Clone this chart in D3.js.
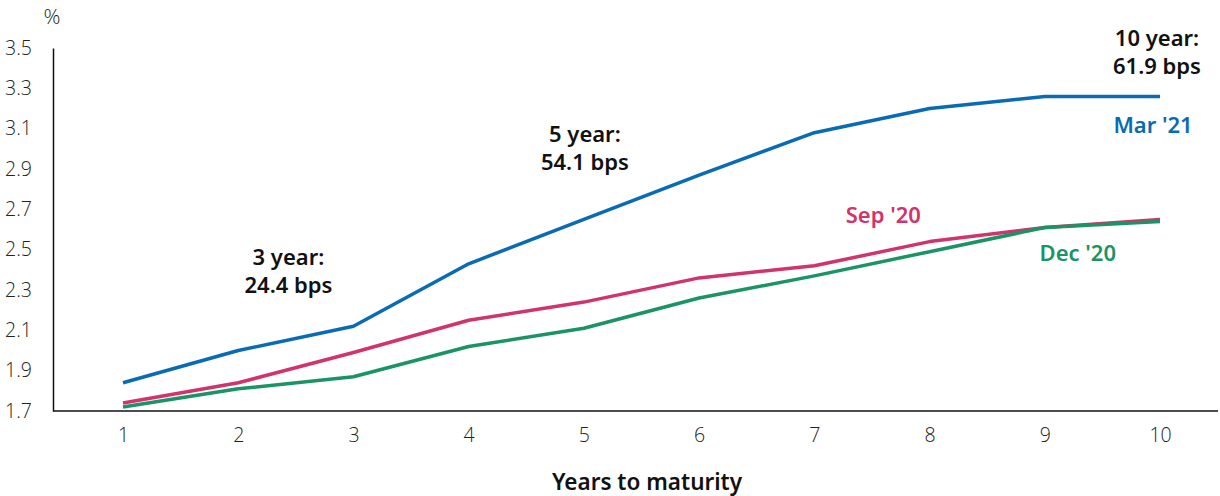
<!DOCTYPE html>
<html><head><meta charset="utf-8">
<script src="https://cdn.jsdelivr.net/npm/d3@7"></script>
<style>
body{margin:0;background:#fff;}
svg{display:block;}
</style></head>
<body>
<svg id="chart" width="1220" height="496"></svg>
<script>
const years = [1,2,3,4,5,6,7,8,9,10];
const mar21 = [1.84,2.00,2.12,2.43,2.65,2.87,3.08,3.20,3.26,3.26];
const sep20 = [1.74,1.84,1.99,2.15,2.24,2.36,2.42,2.54,2.61,2.65];
const dec20 = [1.72,1.81,1.87,2.02,2.11,2.26,2.37,2.49,2.61,2.64];
const yTicks = [1.7,1.9,2.1,2.3,2.5,2.7,2.9,3.1,3.3,3.5];
const seriesNames = ["Mar '21","Sep '20","Dec '20"];
const annotations = [["3 year:","24.4 bps"],["5 year:","54.1 bps"],["10 year:","61.9 bps"]];

(function(){
const svg = d3.select("#chart");
const mLeft = 53, mRight = 1218, mTop = 48, mBottom = 411;
const x = d3.scalePoint().domain(years).range([123, 1160]).padding(0);
const y = d3.scaleLinear().domain([1.7,3.5]).range([mBottom, mTop]);

const tickFont = "'Open Sans', sans-serif";
const boldFont = "'Noto Sans', sans-serif";

const yAxis = svg.append("g").attr("transform",`translate(${mLeft},0)`)
  .call(d3.axisLeft(y).tickValues(yTicks).tickFormat(d3.format(".1f")).tickSize(0).tickPadding(21));
yAxis.select(".domain").attr("stroke","#111").attr("stroke-width",1.5);
yAxis.selectAll("text").attr("font-family",tickFont).attr("font-size",19.5).attr("font-weight",300).attr("fill","#222");

const xAxis = svg.append("g").attr("transform",`translate(0,${mBottom})`)
  .call(d3.axisBottom(x).tickSize(0).tickPadding(17));
xAxis.select(".domain").remove();
xAxis.append("line").attr("x1",mLeft).attr("x2",mRight).attr("y1",0).attr("y2",0)
  .attr("stroke","#111").attr("stroke-width",1.5);
xAxis.selectAll("text").attr("font-family",tickFont).attr("font-size",19.5).attr("font-weight",300).attr("fill","#222");

svg.append("text").attr("x",52).attr("y",24).attr("text-anchor","middle")
  .attr("font-family",tickFont).attr("font-size",21).attr("font-weight",300).attr("fill","#222").text("%");

svg.append("text").attr("x",647).attr("y",490).attr("text-anchor","middle")
  .attr("font-family",boldFont).attr("font-size",22.5).attr("font-weight",600).attr("fill","#111").text("Years to maturity");

const line = d3.line().x((d,i)=>x(years[i])).y(d=>y(d));
const series = [
  {name: seriesNames[0], values: mar21, color:"#0a6bb5"},
  {name: seriesNames[1], values: sep20, color:"#d1336c"},
  {name: seriesNames[2], values: dec20, color:"#1a9464"}
];
[series[1], series[2], series[0]].forEach(s=>{
  svg.append("path").attr("d",line(s.values)).attr("fill","none")
    .attr("stroke",s.color).attr("stroke-width",3.5).attr("stroke-linejoin","round");
});

const labelPos = [
  {s:series[0], x: x(10)-7, y: 133},
  {s:series[1], x: x(7)+69, y: 223},
  {s:series[2], x: x(9)+33, y: 261}
];
labelPos.forEach(p=>{
  svg.append("text").attr("x",p.x).attr("y",p.y).attr("text-anchor","middle")
    .attr("font-family",boldFont).attr("font-size",22).attr("font-weight",600)
    .attr("fill",p.s.color).text(p.s.name);
});

const annPos = [{x: x(3)-65, y: 265},{x: x(5)+1, y: 142},{x: x(10)-3, y: 46}];
annotations.forEach((a,i)=>{
  const t = svg.append("text").attr("text-anchor","middle")
    .attr("font-family",boldFont).attr("font-size",22).attr("font-weight",600).attr("fill","#111");
  t.append("tspan").attr("x",annPos[i].x).attr("y",annPos[i].y).text(a[0]);
  t.append("tspan").attr("x",annPos[i].x).attr("y",annPos[i].y+28).text(a[1]);
});
})();
</script>
</body></html>
